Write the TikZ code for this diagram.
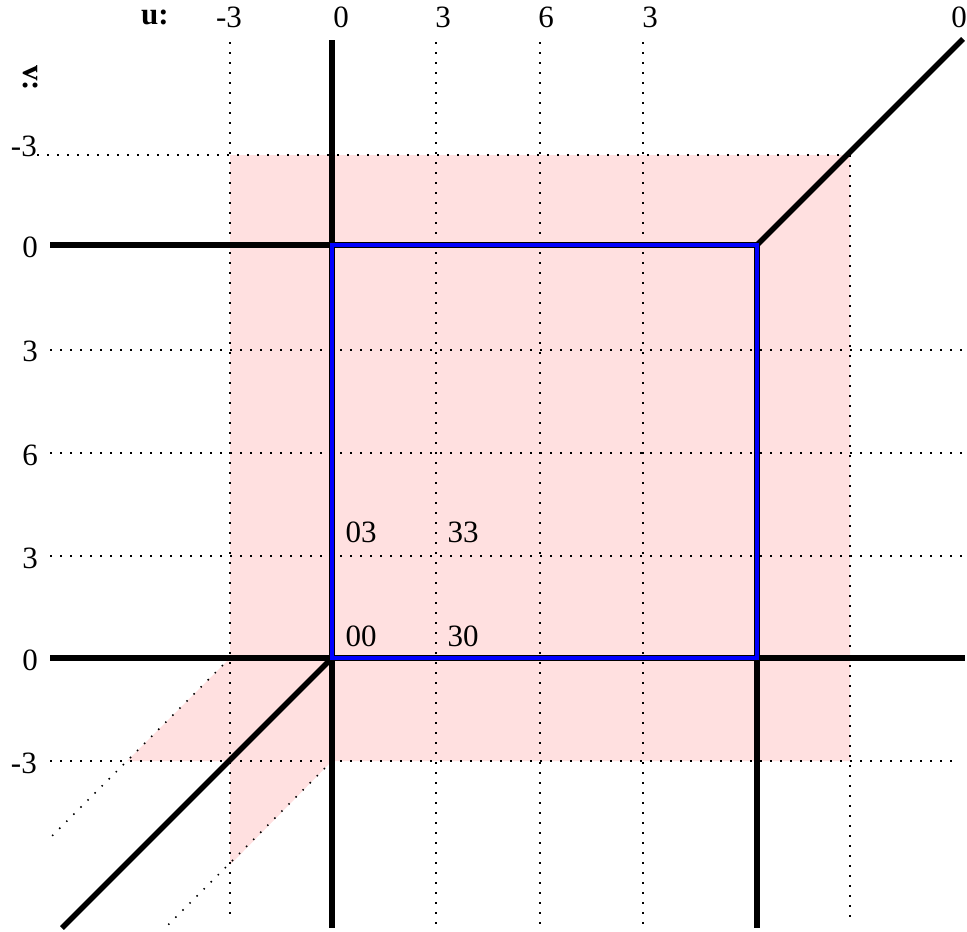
\documentclass[tikz,border=0pt]{standalone}
\usepackage{fontspec}
\setmainfont{Liberation Serif}
\definecolor{pinkfill}{RGB}{255,224,224}
\begin{document}
\begin{tikzpicture}[x=1pt,y=-1pt,
  dotline/.style={line width=1.5pt, dash pattern=on 1.5pt off 8.5pt},
  axisline/.style={line width=5.5pt, black},
  blueouter/.style={line width=6pt, black, line join=miter},
  blueinner/.style={line width=3.2pt, blue, line join=miter},
  lbl/.style={font=\fontsize{31}{35}\selectfont, inner sep=0pt, anchor=center},
  lblr/.style={font=\fontsize{31}{35}\selectfont, inner sep=0pt, anchor=east},
  boldlbl/.style={font=\fontsize{31}{35}\selectfont\bfseries, inner sep=0pt, anchor=center}
]
\useasboundingbox (0,0) rectangle (967,932);

% key coordinates
\coordinate (O) at (332,658);
\coordinate (A) at (757,658);
\coordinate (B) at (757,245);
\coordinate (C) at (332,245);

% pink region
\fill[pinkfill] (230,155) -- (850,155) -- (850,761) -- (332,761) -- (230,865)
  -- (230,761) -- (127,761) -- (230,658) -- cycle;

% dotted grid
\coordinate (g1t) at (230,42);  \coordinate (g1b) at (230,922);
\coordinate (g2t) at (436,42);  \coordinate (g2b) at (436,925);
\coordinate (g3t) at (540,42);  \coordinate (g3b) at (540,925);
\coordinate (g4t) at (643,42);  \coordinate (g4b) at (643,925);
\coordinate (g5t) at (850,155); \coordinate (g5b) at (850,925);
\draw[dotline] (g1t) -- (g1b);
\draw[dotline] (g2t) -- (g2b);
\draw[dotline] (g3t) -- (g3b);
\draw[dotline] (g4t) -- (g4b);
\draw[dotline] (g5t) -- (g5b);
\coordinate (h1l) at (37,155);  \coordinate (h1r) at (850,155);
\coordinate (h2l) at (50,350);  \coordinate (h2r) at (965,350);
\coordinate (h3l) at (50,453);  \coordinate (h3r) at (965,453);
\coordinate (h4l) at (50,556);  \coordinate (h4r) at (965,556);
\coordinate (h5l) at (50,761);  \coordinate (h5r) at (958,761);
\draw[dotline] (h1l) -- (h1r);
\draw[dotline] (h2l) -- (h2r);
\draw[dotline] (h3l) -- (h3r);
\draw[dotline] (h4l) -- (h4r);
\draw[dotline] (h5l) -- (h5r);
\coordinate (d1a) at (230,658); \coordinate (d1b) at (50,838);
\coordinate (d2a) at (332,761); \coordinate (d2b) at (168,925);
\draw[dotline] (d1a) -- (d1b);
\draw[dotline] (d2a) -- (d2b);

% thick black axes
\coordinate (vTop) at (332,40);
\coordinate (vBot) at (332,928);
\coordinate (v2Bot) at (757,928);
\coordinate (hTopL) at (50,245);
\coordinate (hBotL) at (50,658);
\coordinate (hBotR) at (965,658);
\coordinate (diagLL) at (62,928);
\coordinate (diagUR) at (963,39);
\draw[axisline] (vTop) -- (vBot);
\draw[axisline] (A) -- (v2Bot);
\draw[axisline] (hTopL) -- (C);
\draw[axisline] (hBotL) -- (hBotR);
\draw[axisline] (O) -- (diagLL);
\draw[axisline] (B) -- (diagUR);

% blue rectangle
\draw[blueouter] (O) -- (A) -- (B) -- (C) -- cycle;
\draw[blueinner] (O) -- (A) -- (B) -- (C) -- cycle;

% top labels
\node[boldlbl] (ulab) at (155,17) {u:};
\node[lbl] (u1) at (229,17) {-3};
\node[lbl] (u2) at (341,17) {0};
\node[lbl] (u3) at (443,17) {3};
\node[lbl] (u4) at (546,17) {6};
\node[lbl] (u5) at (650,17) {3};
\node[lbl] (u6) at (959,17) {0};

% left labels
\node[boldlbl, rotate=-90] (vlab) at (31,78) {v:};
\node[lblr] (v1) at (37,146) {-3};
\node[lblr] (v2) at (38,247) {0};
\node[lblr] (v3) at (38,351) {3};
\node[lblr] (v4) at (38,455) {6};
\node[lblr] (v5) at (38,558) {3};
\node[lblr] (v6) at (38,660) {0};
\node[lblr] (v7) at (37,763) {-3};

% cell labels
\node[lbl] (c03) at (361,532) {03};
\node[lbl] (c33) at (463,532) {33};
\node[lbl] (c00) at (361,636) {00};
\node[lbl] (c30) at (463,636) {30};
\end{tikzpicture}
\end{document}
